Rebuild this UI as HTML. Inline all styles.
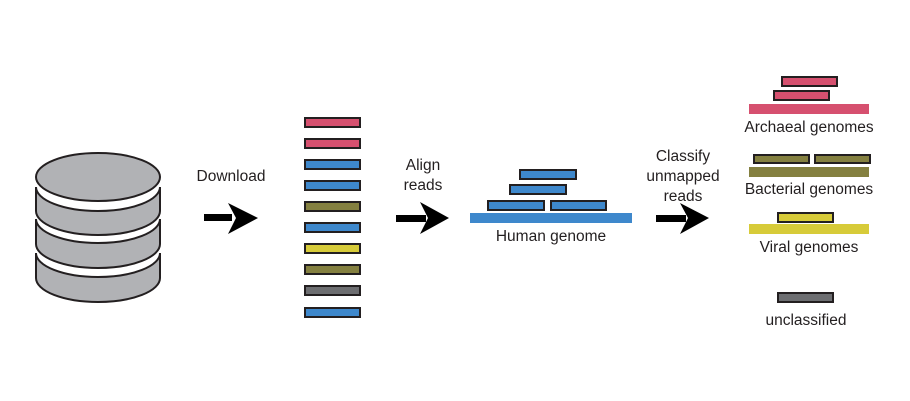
<!DOCTYPE html>
<html><head><meta charset="utf-8">
<style>
html,body{margin:0;padding:0;background:#fff;}
svg{display:block;}
text{font-family:"Liberation Sans",sans-serif;font-size:15.5px;fill:#231f20;}
</style></head>
<body>
<svg width="910" height="401" viewBox="0 0 910 401">
<g fill="#b1b2b5" stroke="#231f20" stroke-width="2">
  <path d="M36,253 A62,24 0 0 0 160,253 L160,278 A62,24 0 0 1 36,278 Z"/>
  <path d="M36,219 A62,24 0 0 0 160,219 L160,244 A62,24 0 0 1 36,244 Z"/>
  <path d="M36,187 A62,24 0 0 0 160,187 L160,211 A62,24 0 0 1 36,211 Z"/>
  <ellipse cx="98" cy="177" rx="62" ry="24"/>
</g>

<g fill="#000">
  <rect x="204" y="214" width="28" height="7"/>
  <polygon points="228,203 258,218 228,234 236,218"/>
</g>
<text x="231" y="181" text-anchor="middle">Download</text>

<g stroke="#231f20" stroke-width="2">
  <rect x="305" y="118" width="55" height="9" fill="#d6506f"/>
  <rect x="305" y="139" width="55" height="9" fill="#d6506f"/>
  <rect x="305" y="160" width="55" height="9" fill="#3e88cc"/>
  <rect x="305" y="181" width="55" height="9" fill="#3e88cc"/>
  <rect x="305" y="202" width="55" height="9" fill="#848040"/>
  <rect x="305" y="223" width="55" height="9" fill="#3e88cc"/>
  <rect x="305" y="244" width="55" height="9" fill="#d7cb39"/>
  <rect x="305" y="265" width="55" height="9" fill="#848040"/>
  <rect x="305" y="286" width="55" height="9" fill="#6d6e71"/>
  <rect x="305" y="308" width="55" height="9" fill="#3e88cc"/>
</g>

<text text-anchor="middle"><tspan x="423" y="170">Align</tspan><tspan x="423" y="190">reads</tspan></text>
<g fill="#000">
  <rect x="396" y="215" width="30" height="7"/>
  <polygon points="420,202 449,218 420,234 428,218"/>
</g>

<g>
  <rect x="470" y="213" width="162" height="10" fill="#3e88cc"/>
  <g stroke="#231f20" stroke-width="2" fill="#3e88cc">
    <rect x="520" y="170" width="56" height="9"/>
    <rect x="510" y="185" width="56" height="9"/>
    <rect x="488" y="201" width="56" height="9"/>
    <rect x="551" y="201" width="55" height="9"/>
  </g>
  <text x="551" y="241" text-anchor="middle">Human genome</text>
</g>

<text text-anchor="middle"><tspan x="683" y="161">Classify</tspan><tspan x="683" y="181">unmapped</tspan><tspan x="683" y="201">reads</tspan></text>
<g fill="#000">
  <rect x="656" y="215" width="30" height="7"/>
  <polygon points="680,203 709,218 680,234 688,218"/>
</g>

<g>
  <rect x="749" y="104" width="120" height="10" fill="#d6506f"/>
  <g stroke="#231f20" stroke-width="2" fill="#d6506f">
    <rect x="782" y="77" width="55" height="9"/>
    <rect x="774" y="91" width="55" height="9"/>
  </g>
  <text x="809" y="132" text-anchor="middle">Archaeal genomes</text>
</g>

<g>
  <rect x="749" y="167" width="120" height="10" fill="#848040"/>
  <g stroke="#231f20" stroke-width="2" fill="#848040">
    <rect x="754" y="155" width="55" height="8"/>
    <rect x="815" y="155" width="55" height="8"/>
  </g>
  <text x="809" y="194" text-anchor="middle">Bacterial genomes</text>
</g>

<g>
  <rect x="749" y="224" width="120" height="10" fill="#d7cb39"/>
  <rect x="778" y="213" width="55" height="9" fill="#d7cb39" stroke="#231f20" stroke-width="2"/>
  <text x="809" y="252" text-anchor="middle">Viral genomes</text>
</g>

<g>
  <rect x="778" y="293" width="55" height="9" fill="#6d6e71" stroke="#231f20" stroke-width="2"/>
  <text x="806" y="325" text-anchor="middle">unclassified</text>
</g>
</svg>
</body></html>
